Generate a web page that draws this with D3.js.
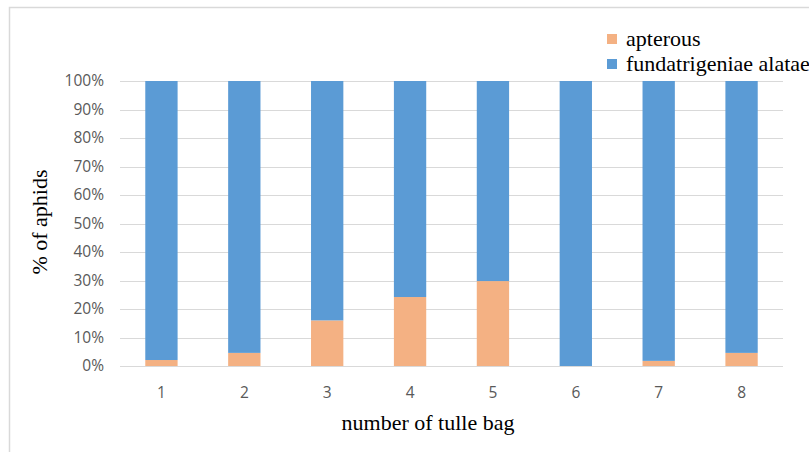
<!DOCTYPE html>
<html>
<head>
<meta charset="utf-8">
<script src="https://cdn.jsdelivr.net/npm/d3@7"></script>
<style>
  body { margin: 0; background: #fff; }
  svg { display: block; }
  .tick_label { font-family: "Open Sans", "Liberation Sans", sans-serif; font-size: 15.5px; fill: #595959; }
  .title { font-family: "Liberation Serif", "Times New Roman", serif; font-size: 22px; fill: #000; }
  .legend_text { font-family: "Liberation Serif", "Times New Roman", serif; font-size: 22px; fill: #000; }
</style>
</head>
<body>
<svg id="main_chart" width="809" height="452"></svg>
<script>
  // DATA
  const bags = ['1', '2', '3', '4', '5', '6', '7', '8'];
  const apterous = [2.1, 4.6, 16.0, 24.2, 29.8, 0, 1.8, 4.6];
  const alatae = [97.9, 95.4, 84.0, 75.8, 70.2, 100, 98.2, 95.4];
  const y_ticks = [0, 10, 20, 30, 40, 50, 60, 70, 80, 90, 100];
  const series_names = ['apterous', 'fundatrigeniae alatae'];
  const series_colors = ['#F4B183', '#5B9BD5'];

  const svg = d3.select('#main_chart');

  // CHART FRAME
  svg.append('path')
    .attr('d', 'M9.5,452 L9.5,7.5 L809,7.5')
    .attr('fill', 'none')
    .attr('stroke', '#d9d9d9')
    .attr('stroke-width', 1.5);

  // SCALES
  const xScale = d3.scaleBand().domain(bags).range([120, 783]).paddingInner(0.61).paddingOuter(0.305);
  const yScale = d3.scaleLinear().domain([0, 100]).range([366, 81]);

  // GRIDLINES
  svg.append('g').selectAll('line').data(y_ticks).enter().append('line')
    .attr('x1', 120).attr('x2', 783)
    .attr('y1', d => Math.round(yScale(d)) + 0.5)
    .attr('y2', d => Math.round(yScale(d)) + 0.5)
    .attr('stroke', '#d9d9d9').attr('stroke-width', 1);

  // Y TICK LABELS
  svg.append('g').selectAll('text').data(y_ticks).enter().append('text')
    .attr('class', 'tick_label')
    .attr('x', 104)
    .attr('y', d => yScale(d))
    .attr('dy', '0.35em')
    .attr('text-anchor', 'end')
    .text(d => d + '%');

  // X TICK LABELS
  svg.append('g').selectAll('text').data(bags).enter().append('text')
    .attr('class', 'tick_label')
    .attr('x', d => xScale(d) + xScale.bandwidth() / 2)
    .attr('y', 398)
    .attr('text-anchor', 'middle')
    .text(d => d);

  // STACKED BARS
  const rows = bags.map((b, i) => ({ bag: b, apterous: apterous[i], alatae: alatae[i] }));
  const stacked = d3.stack().keys(['apterous', 'alatae'])(rows);
  svg.append('g').selectAll('g').data(stacked).enter().append('g')
    .attr('fill', (d, i) => series_colors[i])
    .selectAll('rect').data(d => d).enter().append('rect')
    .attr('x', d => xScale(d.data.bag))
    .attr('width', xScale.bandwidth())
    .attr('y', d => yScale(d[1]))
    .attr('height', d => yScale(d[0]) - yScale(d[1]));

  // AXIS TITLES
  svg.append('text').attr('class', 'title')
    .attr('x', 428).attr('y', 430)
    .attr('text-anchor', 'middle')
    .text('number of tulle bag');
  svg.append('text').attr('class', 'title')
    .attr('transform', 'translate(47,222) rotate(-90)')
    .attr('text-anchor', 'middle')
    .text('% of aphids');

  // LEGEND
  const legend = svg.append('g').selectAll('g').data(series_names).enter().append('g')
    .attr('transform', (d, i) => `translate(607,${34 + i * 25})`);
  legend.append('rect').attr('width', 10).attr('height', 10).attr('fill', (d, i) => series_colors[i]);
  legend.append('text').attr('class', 'legend_text')
    .attr('x', 19).attr('y', 12)
    .text(d => d);
</script>
</body>
</html>
